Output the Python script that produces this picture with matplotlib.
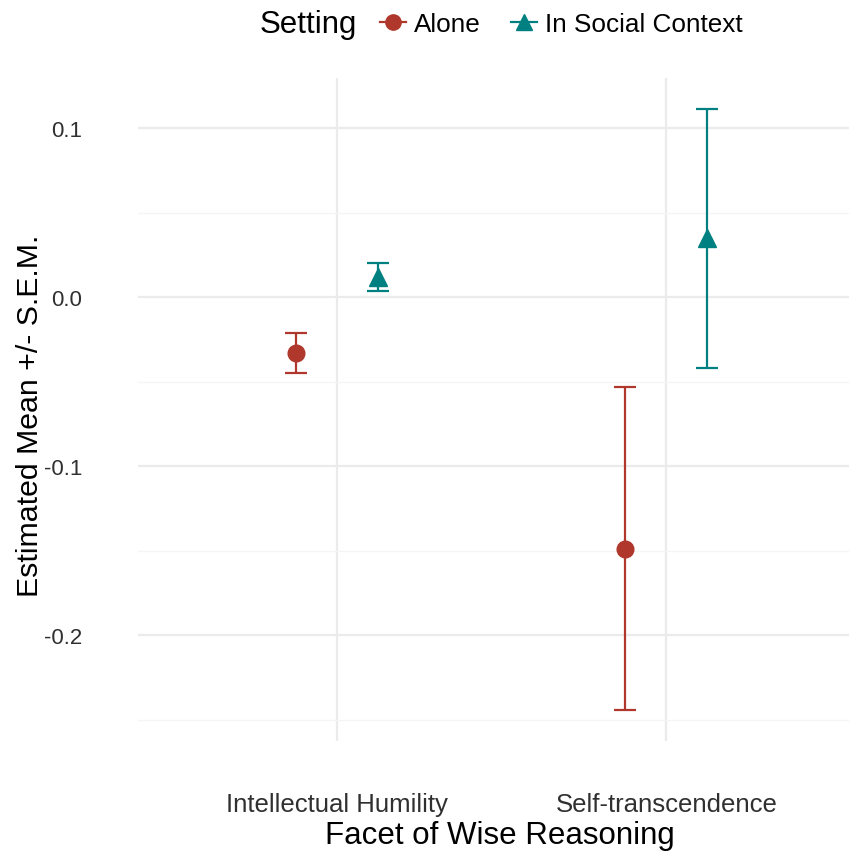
import matplotlib
matplotlib.use("Agg")
import matplotlib.pyplot as plt
from matplotlib.lines import Line2D
import numpy as np

plt.rcParams['font.family'] = ['Liberation Sans', 'DejaVu Sans']

categories = ["Intellectual Humility", "Self-transcendence"]
settings = ["Alone", "In Social Context"]
means = {"Alone": [-0.033, -0.149], "In Social Context": [0.012, 0.035]}
sems = {"Alone": [0.0118, 0.0956], "In Social Context": [0.0083, 0.0767]}
colors = {"Alone": "#B0372B", "In Social Context": "#008080"}
markers = {"Alone": "o", "In Social Context": "^"}
offsets = {"Alone": -0.125, "In Social Context": 0.125}
yticks = [-0.2, -0.1, 0.0, 0.1]
yticklabels = ["-0.2", "-0.1", "0.0", "0.1"]
minor_yticks = [-0.25, -0.15, -0.05, 0.05]

W, H = 849, 854
fig = plt.figure(figsize=(W / 100, H / 100), dpi=100)
left, right, top, bottom = 138, 849, 79, 742
ax = fig.add_axes([left / W, 1 - bottom / H, (right - left) / W, (bottom - top) / H])

x = np.arange(1, len(categories) + 1)
for s in settings:
    xs = x + offsets[s]
    ax.errorbar(xs, means[s], yerr=sems[s], fmt='none', ecolor=colors[s],
                elinewidth=1.6, capsize=8, capthick=1.6, zorder=3)
    ax.plot(xs, means[s], linestyle='none', marker=markers[s], color=colors[s],
            markersize=12 if s == "Alone" else 13, zorder=4)

ax.set_xlim(0.395, 2.555)
ax.set_ylim(-0.2627, 0.1298)
ax.set_xticks(x)
ax.set_xticklabels(categories, fontsize=18.5, color="#303030")
ax.set_yticks(yticks)
ax.set_yticks(minor_yticks, minor=True)
ax.set_yticklabels(yticklabels, fontsize=16, color="#303030")
ax.grid(True, which='major', color='#EBEBEB', linewidth=1.6)
ax.grid(True, which='minor', axis='y', color='#F5F5F5', linewidth=1.0)
ax.set_axisbelow(True)
for sp in ax.spines.values():
    sp.set_visible(False)
ax.tick_params(axis='both', which='both', length=0)
ax.tick_params(axis='x', pad=37)
ax.tick_params(axis='y', pad=40)

fig.text(500 / W, 1 - 836 / H, "Facet of Wise Reasoning", fontsize=22.5,
         color="black", ha='center', va='center')
fig.text(30 / W, 1 - 416 / H, "Estimated Mean +/- S.E.M.", fontsize=21.8,
         color="black", ha='center', va='center', rotation=90)

handles = [Line2D([], [], color=colors[s], marker=markers[s], markersize=11,
                  linewidth=1.6, label=s) for s in settings]
fig.text(260 / W, 1 - 25 / H, "Setting", fontsize=22.5, va='center', ha='left')
fig.legend(handles=handles, loc='center left', bbox_to_anchor=(380 / W, 1 - 25 / H),
           ncol=2, frameon=False, fontsize=18.8, handlelength=1.0, handletextpad=0.3,
           columnspacing=1.15, borderpad=0, borderaxespad=0)

fig.savefig("out.png", dpi=100, facecolor="white")
